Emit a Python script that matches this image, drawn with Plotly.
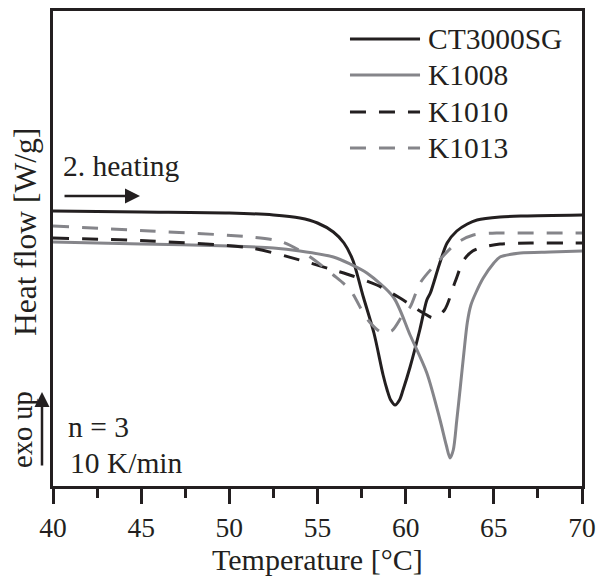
import plotly.graph_objects as go

# ---- data (heat flow in arbitrary units, exo up) ----
t_ct3000sg = [40, 45, 50, 52.5, 54, 55, 55.9, 56.5, 57.0, 57.6, 58.2, 58.72, 58.95, 59.15, 59.4,
              59.65, 59.85, 60.25, 60.8, 61.2, 61.4, 61.9, 62.35, 62.9, 63.5, 64.05, 65.35, 66.7, 70]
hf_ct3000sg = [2.89, 2.88, 2.87, 2.85, 2.82, 2.77, 2.68, 2.57, 2.40, 2.03, 1.67, 1.25, 1.10, 1.00, 0.95,
               1.00, 1.10, 1.33, 1.70, 2.00, 2.07, 2.35, 2.57, 2.69, 2.76, 2.80, 2.83, 2.84, 2.85]

t_k1008 = [40, 45, 50, 52.5, 54, 55.9, 56.85, 57.8, 59.3, 60.25, 61.2, 61.95, 62.3, 62.52, 62.7,
           62.9, 63.1, 63.3, 63.5, 63.7, 64.0, 64.4, 65.0, 65.35, 66.5, 68.2, 70]
hf_k1008 = [2.58, 2.56, 2.54, 2.52, 2.49, 2.43, 2.36, 2.27, 2.03, 1.65, 1.27, 0.80, 0.55, 0.42, 0.50,
            0.80, 1.13, 1.47, 1.78, 1.95, 2.08, 2.22, 2.37, 2.43, 2.47, 2.48, 2.49]

t_k1010 = [40, 45.5, 51.2, 54.0, 55.9, 57.0, 58.36, 59.68, 61.0, 61.6, 62.2, 62.8, 63.3, 63.8,
           64.4, 65.35, 67.1, 70]
hf_k1010 = [2.62, 2.59, 2.52, 2.40, 2.30, 2.24, 2.15, 2.02, 1.87, 1.82, 1.90, 2.18, 2.40, 2.49,
            2.53, 2.56, 2.57, 2.57]

t_k1013 = [40, 45.5, 51.2, 53.0, 54.5, 55.9, 56.85, 57.6, 58.0, 58.6, 59.2, 59.8, 60.25, 60.82,
           61.76, 62.9, 63.84, 65.35, 66.1, 70]
hf_k1013 = [2.74, 2.69, 2.63, 2.58, 2.44, 2.25, 2.10, 1.87, 1.77, 1.68, 1.69, 1.84, 1.93, 2.17,
            2.37, 2.57, 2.65, 2.67, 2.67, 2.67]

series_names = ["CT3000SG", "K1008", "K1010", "K1013"]
x_ticks = [40, 45, 50, 55, 60, 65, 70]

BLACK = "#231f20"
GRAY = "#85858a"
DASH = "16px,13px"
FONT = "Liberation Serif"

styles = [
    dict(color=BLACK, dash="solid"),
    dict(color=GRAY, dash="solid"),
    dict(color=BLACK, dash=DASH),
    dict(color=GRAY, dash=DASH),
]
xs = [t_ct3000sg, t_k1008, t_k1010, t_k1013]
ys = [hf_ct3000sg, hf_k1008, hf_k1010, hf_k1013]

fig = go.Figure()
for name, x, y, st in zip(series_names, xs, ys, styles):
    fig.add_trace(go.Scatter(
        x=x, y=y, name=name, mode="lines", showlegend=False,
        line=dict(color=st["color"], dash=st["dash"], width=3, shape="spline", smoothing=0.8),
        hoverinfo="skip",
    ))

# ---- manual legend ----
leg_y = [0.9411, 0.8653, 0.7874, 0.7116]
shapes = []
annotations = []
for name, st, yy in zip(series_names, styles, leg_y):
    shapes.append(dict(type="line", xref="paper", yref="paper",
                       x0=0.5614, x1=0.6938, y0=yy, y1=yy,
                       line=dict(color=st["color"], dash=st["dash"], width=3)))
    annotations.append(dict(text=name, xref="paper", yref="paper", x=0.7051, y=yy,
                            xanchor="left", yanchor="middle", showarrow=False,
                            font=dict(family=FONT, size=29.5, color=BLACK)))

# ---- texts and arrows ----
txt = dict(family=FONT, size=29.5, color=BLACK)
annotations += [
    dict(text="2. heating", xref="paper", yref="paper", x=0.0151, y=0.6737,
         xanchor="left", yanchor="middle", showarrow=False, font=txt),
    dict(text="", xref="paper", yref="paper", x=0.1645, y=0.6105, ax=-77, ay=0,
         showarrow=True, arrowhead=2, arrowsize=1.2, arrowwidth=2.5, arrowcolor=BLACK),
    dict(text="Heat flow [W/g]", xref="paper", yref="paper", x=-0.0529, y=0.5347,
         xanchor="center", yanchor="middle", textangle=-90, showarrow=False,
         font=dict(family=FONT, size=31.5, color=BLACK)),
    dict(text="exo up", xref="paper", yref="paper", x=-0.0567, y=0.1179,
         xanchor="center", yanchor="middle", textangle=-90, showarrow=False,
         font=dict(family=FONT, size=28.5, color=BLACK)),
    dict(text="", xref="paper", yref="paper", x=-0.0208, y=0.1979, ax=0, ay=75,
         showarrow=True, arrowhead=2, arrowsize=1.2, arrowwidth=2.5, arrowcolor=BLACK),
    dict(text="n = 3", xref="paper", yref="paper", x=0.0246, y=0.1242,
         xanchor="left", yanchor="middle", showarrow=False, font=txt),
    dict(text="10 K/min", xref="paper", yref="paper", x=0.0284, y=0.0478,
         xanchor="left", yanchor="middle", showarrow=False, font=txt),
    dict(text="Temperature [°C]", xref="paper", yref="paper", x=0.5, y=-0.155,
         xanchor="center", yanchor="middle", showarrow=False,
         font=dict(family=FONT, size=30, color=BLACK)),
]

fig.update_layout(
    width=597, height=576,
    margin=dict(l=53, r=15, t=11, b=90, autoexpand=False),
    paper_bgcolor="white", plot_bgcolor="white",
    shapes=shapes, annotations=annotations,
    showlegend=False,
)
fig.update_xaxes(
    range=[40, 70], tickvals=x_ticks, ticktext=[str(v) for v in x_ticks],
    automargin=False,
    showline=True, linewidth=3, linecolor=BLACK, mirror=True,
    ticks="outside", ticklen=15, tickwidth=3, tickcolor=BLACK,
    minor=dict(dtick=2.5, tick0=40, ticks="outside", ticklen=9, tickwidth=3, tickcolor=BLACK, showgrid=False),
    showgrid=False, zeroline=False,
    tickfont=dict(family=FONT, size=27.5, color=BLACK),
)
fig.update_yaxes(
    range=[0.14, 4.89], showticklabels=False, ticks="", automargin=False,
    showline=True, linewidth=3, linecolor=BLACK, mirror=True,
    showgrid=False, zeroline=False,
)

fig.write_html("out.html")
